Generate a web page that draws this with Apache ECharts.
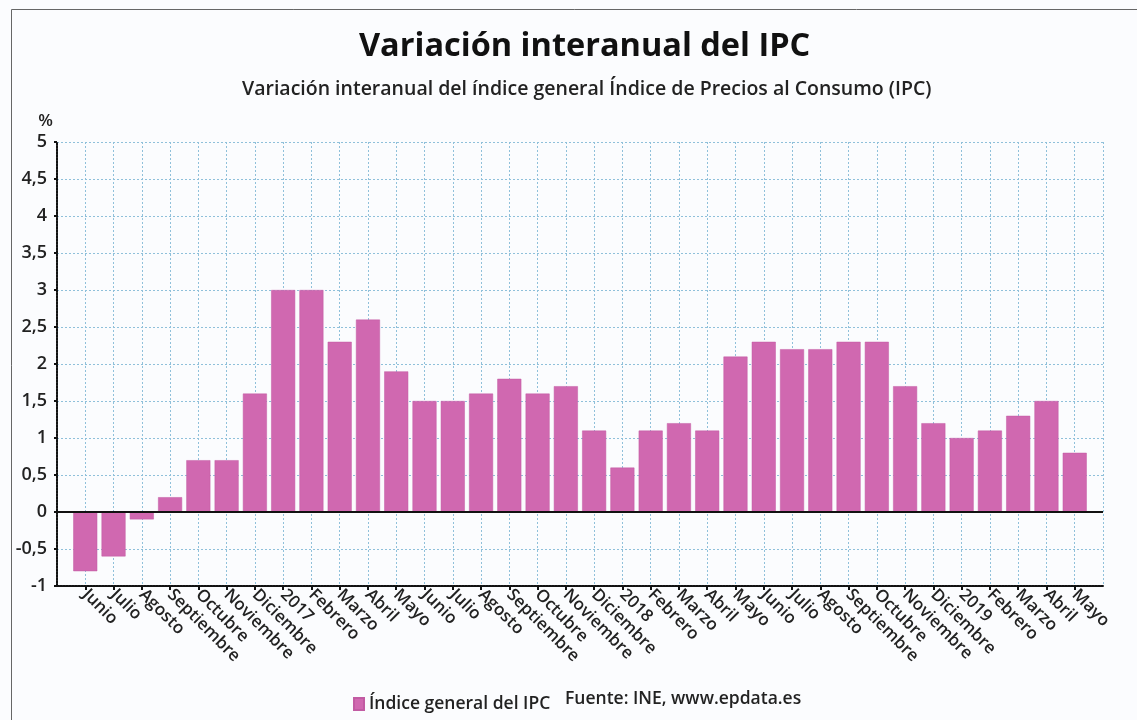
<!DOCTYPE html>
<html>
<head>
<meta charset="utf-8">
<script src="https://cdn.jsdelivr.net/npm/echarts@6/dist/echarts.min.js"></script>
<style>
html,body{margin:0;padding:0;background:#fbfcfe;}
#c{width:1137px;height:720px;}
</style>
</head>
<body>
<div id="c"></div>
<script>
const categories = ['Junio','Julio','Agosto','Septiembre','Octubre','Noviembre','Diciembre','2017','Febrero','Marzo','Abril','Mayo','Junio','Julio','Agosto','Septiembre','Octubre','Noviembre','Diciembre','2018','Febrero','Marzo','Abril','Mayo','Junio','Julio','Agosto','Septiembre','Octubre','Noviembre','Diciembre','2019','Febrero','Marzo','Abril','Mayo'];
const ipcValues = [-0.8,-0.6,-0.1,0.2,0.7,0.7,1.6,3.0,3.0,2.3,2.6,1.9,1.5,1.5,1.6,1.8,1.6,1.7,1.1,0.6,1.1,1.2,1.1,2.1,2.3,2.2,2.2,2.3,2.3,1.7,1.2,1.0,1.1,1.3,1.5,0.8];
const yTicks = {min:-1, max:5, interval:0.5};
const seriesName = 'Índice general del IPC';
const titleText = 'Variación interanual del IPC';
const subtitleText = 'Variación interanual del índice general Índice de Precios al Consumo (IPC)';
const sourceText = 'Fuente: INE, www.epdata.es';

const xData = [''].concat(categories, ['']);
const yData = [null].concat(ipcValues, [null]);
const font = '"Open Sans", "Noto Sans", sans-serif';
const last = xData.length - 1;

const chart = echarts.init(document.getElementById('c'), null, {renderer:'canvas'});
chart.setOption({
  backgroundColor:'#fbfcfe',
  animation:false,
  title:[
    {text:titleText, left:354, top:25, textStyle:{fontFamily:font, fontWeight:700, fontSize:32.5, color:'#111'}},
    {text:subtitleText, left:237, top:74, textStyle:{fontFamily:font, fontWeight:600, fontSize:19.5, color:'#222'}}
  ],
  grid:{left:57, right:34, top:142, bottom:134, containLabel:false},
  legend:{
    data:[seriesName], left:348, top:690, icon:'rect', itemWidth:10, itemHeight:12, itemGap:6,
    textStyle:{fontFamily:font, fontWeight:600, fontSize:17.5, color:'#222'}
  },
  graphic:[
    {type:'rect', shape:{x:11.5, y:9.5, width:1140, height:720}, style:{fill:null, stroke:'#666', lineWidth:1}, silent:true},
    {type:'text', left:565, top:690, style:{text:sourceText, font:'600 17.5px "Open Sans", sans-serif', fill:'#222'}}
  ],
  xAxis:{
    type:'category', data:xData, boundaryGap:false,
    axisLine:{onZero:false, lineStyle:{color:'#111', width:2, type:[2,1]}},
    axisTick:{show:true, length:4, interval:function(i){return i>0 && i<last;}, lineStyle:{color:'#111', width:2}},
    axisLabel:{interval:0, rotate:-45, margin:6, fontFamily:font, fontWeight:600, fontSize:17, color:'#222'},
    splitLine:{show:true, lineStyle:{color:'#8fc0da', width:1, type:[2,2]}}
  },
  yAxis:{
    type:'value', min:yTicks.min, max:yTicks.max, interval:yTicks.interval,
    name:'%', nameLocation:'end', nameGap:12, nameTextStyle:{fontFamily:font, fontWeight:600, fontSize:17, color:'#222', align:'right', padding:[0,4,0,0]},
    axisLine:{show:true, lineStyle:{color:'#111', width:2, type:[2,1]}},
    axisTick:{show:true, length:3, lineStyle:{color:'#111', width:2}},
    axisLabel:{margin:10, fontFamily:font, fontWeight:600, fontSize:18, color:'#222',
      formatter:function(v){return String(v).replace('.', ',');}},
    splitLine:{show:true, lineStyle:{color:'#8fc0da', width:1, type:[2,2]}}
  },
  series:[{
    name:seriesName, type:'bar', data:yData, barWidth:24,
    itemStyle:{color:'#d068b0', borderColor:'#c25ba3', borderWidth:0.5},
    markLine:{silent:true, symbol:'none', label:{show:false},
      lineStyle:{color:'#111', width:2, type:'solid'}, data:[{yAxis:0}]}
  }]
});
</script>
</body>
</html>
